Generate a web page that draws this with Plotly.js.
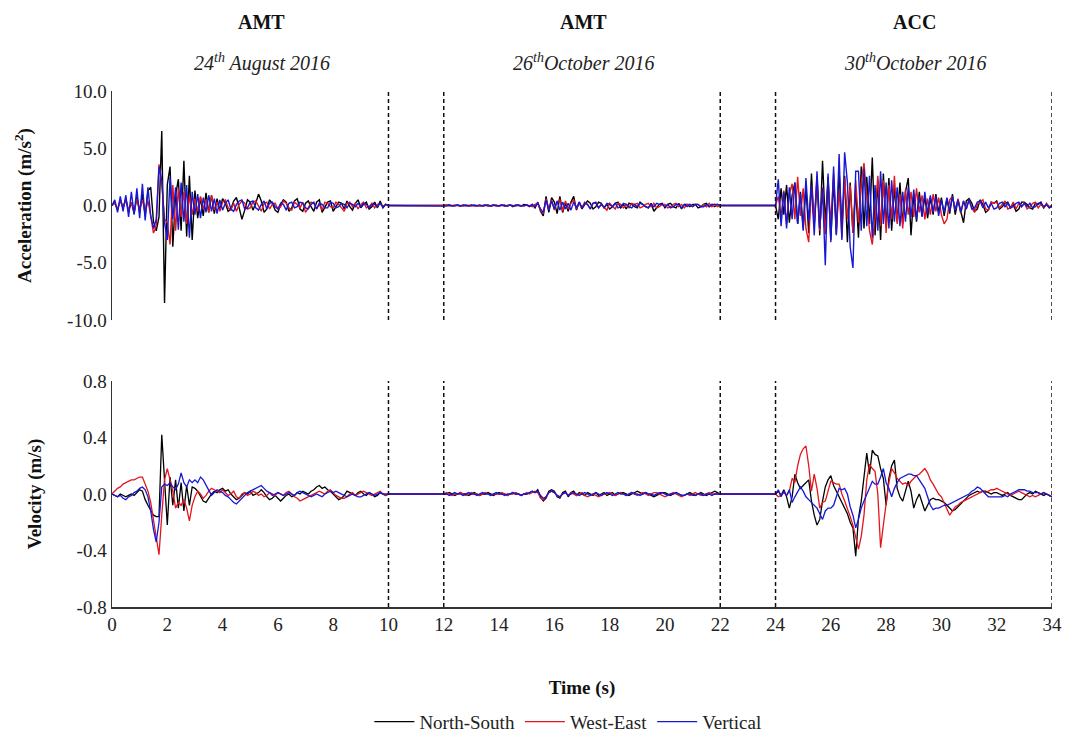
<!DOCTYPE html>
<html>
<head>
<meta charset="utf-8">
<script src="https://cdn.plot.ly/plotly-3.0.1.min.js"></script>
<style>html,body{margin:0;padding:0;background:#fff;}#chart{width:1070px;height:738px;}</style>
</head>
<body>
<div id="chart"></div>
<script>
// Each record lasts 10 s, sampled every 0.1 s (101 samples); records start at these times
const segmentStarts = [0, 12, 24];
const sampleStep = 0.1;
const seriesNames = ["North-South", "West-East", "Vertical"];
const seriesColors = ["#000000", "#e3161d", "#1717d6"];
const eventTitles = ["AMT", "AMT", "ACC"];
const eventDates = ["24<sup>th</sup> August 2016", "26<sup>th</sup>October 2016", "30<sup>th</sup>October 2016"];
const eventCentres = [5.42, 17.07, 29.04];
const dividerTimes = [10, 12, 22, 24, 34];
const xTicks = [0, 2, 4, 6, 8, 10, 12, 14, 16, 18, 20, 22, 24, 26, 28, 30, 32, 34];
const accTicks = [-10, -5, 0, 5, 10];
const accTickText = ["-10.0", "-5.0", "0.0", "5.0", "10.0"];
const velTicks = [-0.8, -0.4, 0, 0.4, 0.8];
const velTickText = ["-0.8", "-0.4", "0.0", "0.4", "0.8"];

// ---------- Acceleration (m/s^2) ----------
const accNS_1 = [0,0.3,-0.4,0.5,-0.2,0.6,-0.5,0.3,-0.7,0.8,
 -0.6,1.0,-0.9,1.3,1.6,-1.4,-2.2,-1.0,6.5,-8.5,
 1.8,3.4,-3.6,0.9,2.3,-2.2,3.9,-2.7,2.6,-3.0,
 1.3,-1.1,0.7,-0.9,1.1,-0.6,0.9,-0.7,0.6,-0.4,
 0.6,0.2,-0.5,-0.3,0.4,0.7,-0.2,-1.2,-0.4,0.5,
 0.3,-0.4,0.2,1.0,0.4,-0.6,-0.3,0.5,0.2,-0.4,
 -0.6,0.1,0.5,0.3,-0.5,-0.2,0.4,0.6,-0.3,-0.5,
 0.2,0.4,-0.1,-0.5,0.3,0.5,-0.6,-0.2,0.3,0.4,
 -0.5,-0.1,0.3,0.2,-0.3,0.4,-0.1,-0.4,0.2,0.5,
 -0.2,0.1,0.3,-0.3,-0.1,0.3,-0.2,0.4,-0.2,0.1,
 0];
const accNS_2 = [0,0,0.05,-0.05,0,0.05,-0.05,0.05,0,-0.05,
 0.05,0,-0.05,0.05,-0.05,0,0.05,-0.05,0.05,0,
 -0.05,0.05,-0.05,0,0.05,-0.1,0.05,0,-0.05,0.1,
 0.05,-0.1,0.1,-0.2,0.3,-0.5,-0.9,0.8,-0.6,0.7,
 0.3,-0.7,0.8,-0.6,0.2,-0.5,0.3,0.8,-0.4,0.3,
 -0.3,0.1,0.4,0.2,-0.3,-0.1,0.3,0.2,-0.2,0.1,
 -0.3,-0.1,0.2,0.3,-0.2,0.1,-0.3,0.2,0.1,-0.1,
 -0.2,0.3,0.1,-0.1,-0.2,0.2,-0.5,-0.2,0.1,0.2,
 -0.2,0.1,0.2,-0.1,-0.2,0.2,-0.3,0.1,0.1,-0.1,
 0.1,0.1,-0.2,-0.1,0.1,0.2,-0.1,0.1,-0.1,0.1,
 0];
const accNS_3 = [0,-1.2,1.5,-0.8,1.8,-1.5,0.9,2.0,-1.6,1.2,
 -2.0,1.6,-2.4,2.8,-1.8,2.2,-2.6,3.9,-1.5,2.5,
 -3.0,2.2,-2.5,3.0,-1.8,2.6,-3.2,2.0,-2.4,1.5,
 -2.8,3.4,-2.0,2.5,-1.6,4.2,-2.6,2.2,-3.0,2.8,
 -1.8,2.4,-2.2,1.6,-1.4,2.0,-1.6,1.2,2.4,-2.6,
 1.0,-1.4,1.2,-0.9,0.8,-1.1,0.7,-0.8,1.0,-0.6,
 0.7,-0.9,0.6,-0.7,1.0,-0.8,0.5,-0.6,-1.5,0.4,
 0.6,0.2,-0.5,-0.3,0.5,0.1,-0.6,-0.4,0.3,0.2,
 0.4,-0.3,-0.1,0.2,0.3,-0.2,0.1,-0.5,-0.3,0.3,
 0.3,0.1,-0.2,-0.3,0.2,0.1,0.3,-0.2,0.1,-0.2,
 0];
const accWE_1 = [0,0.2,-0.3,0.4,-0.2,0.5,-0.4,0.3,-0.5,0.6,
 -0.3,0.5,-0.6,0.4,-0.9,-2.4,-1.8,3.6,2.0,-1.2,
 -1.5,-3.4,1.8,-2.2,1.5,-1.0,1.2,-1.6,0.9,-0.8,
 0.6,-0.5,0.8,-0.3,0.5,-0.6,0.9,-0.4,0.3,-0.5,
 0.3,0.5,-0.2,-0.4,0.2,-0.5,0.1,0.4,0.2,-0.3,
 -0.2,0.3,0.4,-0.1,-0.5,0.2,0.3,-0.3,0.1,0.2,
 -0.3,-0.1,0.4,0.2,-0.2,-0.4,0.3,0.1,-0.2,0.3,
 -0.6,-0.2,0.3,0.2,-0.3,0.1,-0.4,0.3,0.2,-0.1,
 -0.2,0.3,0.1,-0.2,-0.5,0.2,0.3,-0.1,0.2,-0.3,
 0.1,0.3,-0.2,-0.1,0.2,-0.2,0.1,0.2,-0.1,0.1,
 0];
const accWE_2 = [0,0.05,-0.05,0,0.05,0,-0.05,0.05,-0.05,0,
 0.05,-0.05,0,0.05,-0.05,0.05,0,-0.05,0,0.05,
 -0.05,0,0.05,-0.05,0.05,0,-0.05,0.05,0,-0.05,
 0.05,0,-0.1,0.1,0.2,-0.4,-0.7,0.6,-0.3,0.5,
 -0.4,0.3,0.5,-0.5,0.4,-0.3,0.2,0.5,-0.3,0.2,
 -0.2,0.3,0.1,-0.3,0.2,0.2,-0.2,0.1,-0.2,-0.4,
 0.2,-0.1,-0.3,0.2,0.1,-0.2,0.1,-0.2,0.2,0.1,
 0.2,-0.2,-0.1,0.1,0.2,-0.1,0.2,-0.2,-0.1,0.1,
 0.1,-0.2,-0.1,0.1,0.2,-0.1,0.1,-0.2,0.1,0.1,
 -0.1,0.1,0.1,-0.1,0.1,-0.1,0.2,-0.1,0.1,-0.1,
 0];
const accWE_3 = [0,0.8,-1.0,1.3,-1.6,1.0,1.9,-1.2,2.5,-0.9,
 1.5,-2.0,-3.2,1.8,-1.4,2.6,-2.2,1.6,-2.5,2.0,
 -1.6,2.8,-2.0,1.4,-2.8,2.4,-1.2,1.8,-2.4,2.2,
 -1.5,2.0,3.7,1.0,-2.2,-3.4,-1.0,2.6,-1.8,2.2,
 -2.4,1.8,-1.2,2.6,-1.6,1.0,-2.0,1.4,-0.8,1.2,
 -1.0,1.5,-0.6,0.9,-1.2,0.6,-0.8,1.0,-0.5,0.7,
 -0.8,-1.6,-1.2,0.5,0.8,-0.4,0.6,-0.7,0.4,-0.3,
 0.5,-0.2,-0.6,0.1,0.3,0.5,-0.3,-0.4,0.3,0.2,
 0.3,-0.2,0.1,0.4,-0.3,-0.2,0.3,-0.3,0.2,-0.1,
 0.2,-0.3,-0.1,0.2,0.3,-0.2,0.1,-0.2,0.2,-0.1,
 0];
const accV_1 = [0,0.5,-0.6,0.8,-0.5,0.9,-1.0,1.2,-0.8,1.5,
 -1.1,1.9,-1.3,1.6,-0.9,-2.0,-1.2,3.4,2.2,-1.5,
 -3.0,2.5,-1.2,1.6,-2.1,2.0,-1.4,1.8,-2.8,1.2,
 -0.8,1.0,-1.1,0.7,-0.6,0.9,-0.5,0.6,-0.7,0.5,
 -0.4,0.2,0.5,-0.3,-0.5,0.1,0.4,0.5,-0.3,-0.2,
 0.3,0.4,-0.2,-0.4,0.1,0.4,-0.3,0.2,0.3,-0.1,
 -0.3,0.2,0.1,-0.4,0.2,0.3,-0.2,-0.1,0.3,0.2,
 -0.2,-0.3,0.1,0.3,-0.3,0.2,0.1,-0.2,-0.2,0.3,
 0.2,-0.2,-0.1,0.2,0.1,-0.2,0.2,0.1,-0.1,0.2,
 -0.1,0.2,0.1,-0.2,0.1,0.1,-0.1,0.2,-0.1,0.1,
 0];
const accV_2 = [0,-0.05,0.05,0,-0.05,0.05,0,-0.05,0.05,0,
 -0.05,0.05,0,-0.05,0,0.05,-0.05,0,0.05,-0.05,
 0,0.05,0,-0.05,0.05,-0.05,0,0.05,-0.05,0,
 0.05,-0.05,0.1,-0.1,0.2,-0.3,-0.6,0.5,-0.4,0.4,
 -0.3,0.4,-0.4,0.3,-0.3,0.2,-0.4,0.3,-0.2,0.3,
 -0.2,0.2,0.1,-0.3,0.2,0.3,-0.2,0.1,-0.2,0.2,
 0.1,-0.1,0.2,-0.2,-0.1,0.2,0.1,-0.1,-0.2,0.1,
 -0.1,0.2,0.1,-0.1,-0.2,0.1,-0.1,0.2,0.1,0.1,
 -0.1,0.1,-0.2,-0.1,0.1,0.1,-0.2,0.1,-0.1,0.1,
 -0.1,0.1,0.1,-0.1,-0.1,0.1,-0.1,0.1,0.1,0.1,
 0];
const accV_3 = [0,2.3,-1.8,1.2,-2.0,1.6,-1.2,2.0,-1.6,1.1,
 -2.2,2.4,-1.4,1.8,-2.6,3.0,-2.0,1.5,-5.2,2.8,
 -3.2,3.4,-2.6,4.5,-3.0,4.65,2.0,-3.6,-5.45,3.0,
 3.0,-2.2,3.2,-1.8,2.6,-2.8,1.8,-2.2,3.0,-1.6,
 2.0,-2.0,2.2,-1.4,1.6,-1.8,1.2,-1.4,1.6,-1.0,
 1.4,-1.2,0.8,-1.0,1.2,-0.7,0.9,-0.6,0.8,-0.9,
 0.5,-0.6,0.7,-0.5,0.8,-0.4,0.5,-0.6,0.4,-0.3,
 0.5,-0.3,-0.2,0.3,0.4,-0.2,0.3,-0.2,0.2,-0.3,
 -0.2,0.2,0.3,-0.1,0.2,-0.2,-0.1,0.2,0.3,-0.1,
 0.2,-0.1,0.2,-0.2,-0.1,0.2,0.2,-0.1,0.1,-0.2,
 0];

// ---------- Velocity (m/s) ----------
const velNS_1 = [0,-0.01,-0.02,0,-0.01,-0.02,-0.01,0,-0.01,0.01,
 0.03,0.02,-0.04,-0.08,-0.12,-0.15,-0.16,-0.16,0.42,0.12,
 -0.22,0.12,-0.08,0.10,-0.10,0.08,-0.12,0.06,-0.08,0.05,
 0.04,0.02,-0.02,-0.05,-0.06,-0.03,0.0,0.02,0.01,0.03,
 0.04,0.02,0.03,0.0,-0.02,-0.04,-0.03,-0.01,0.01,0.0,
 0.02,-0.01,0.0,0.01,0.03,0.01,-0.02,-0.04,-0.03,-0.01,
 -0.03,-0.05,-0.03,-0.01,0.0,-0.02,-0.01,0.01,0.0,0.02,
 0.01,0.0,0.02,0.03,0.05,0.06,0.04,0.05,0.03,0.02,
 0.0,-0.02,-0.04,-0.03,-0.01,0.02,0.01,0.0,-0.01,0.01,
 0.02,0.0,-0.01,0.01,0.0,-0.02,-0.01,0.01,0.0,-0.01,
 0];
const velNS_2 = [0,0,0.01,0,-0.01,0,0.01,0,0,-0.01,
 0,0.01,0,-0.01,0,0,0.01,0,-0.01,0,
 0.01,0,0,-0.01,0,0.01,0,0,-0.01,0,
 0,0.01,0.02,0.01,0.03,-0.02,-0.05,-0.03,0.02,0.03,
 0.02,-0.02,-0.03,0.01,0.02,-0.02,0.01,0.02,-0.01,0.01,
 0,-0.01,0.01,0,-0.01,0.01,-0.01,0,0.01,-0.01,
 0,0.01,-0.01,0,0.01,0.01,0,-0.01,0,0.01,
 0.02,0.01,0,0.01,0,-0.01,-0.02,-0.01,0,0.01,
 0.01,0,-0.01,0,0.01,0,-0.01,-0.01,0,0.01,
 0,-0.01,0,0.01,0,-0.01,0,0.01,0.02,0.01,
 0];
const velNS_3 = [0,0.02,-0.01,0.03,-0.02,-0.10,-0.02,0.14,0.08,0.04,
 0.06,0.08,0.10,-0.05,-0.15,-0.22,-0.18,-0.05,0.05,0.10,
 0.13,0.06,0.02,-0.02,-0.06,-0.10,-0.14,-0.20,-0.24,-0.44,
 -0.17,-0.05,0.12,0.29,0.14,0.31,0.28,0.27,0.18,0.11,
 -0.08,0.11,0.20,0.24,0.04,-0.02,-0.05,0.02,0.09,0.02,
 -0.10,-0.04,0.0,-0.06,-0.12,-0.08,-0.04,-0.03,-0.04,-0.04,
 -0.05,-0.06,-0.08,-0.10,-0.12,-0.11,-0.09,-0.07,-0.05,-0.03,
 -0.01,0.0,0.01,0.02,0.01,0.02,0.02,0.01,0.0,0.01,
 0.01,0.0,-0.01,0.0,0.01,-0.01,-0.02,-0.03,-0.04,-0.04,
 -0.02,0.0,0.01,0.0,0.02,0.01,0.0,-0.01,0.0,-0.01,
 -0.02];
const velWE_1 = [0,0.02,0.04,0.05,0.07,0.08,0.09,0.10,0.10,0.11,
 0.12,0.12,0.07,0.02,-0.06,-0.18,-0.30,-0.43,-0.15,0.10,
 0.18,0.10,0.02,-0.10,-0.06,-0.08,-0.04,-0.10,-0.19,-0.08,
 -0.02,0.02,0.0,-0.03,-0.01,0.02,0.04,0.03,0.02,0.01,
 0.03,0.01,-0.01,0.0,0.02,-0.02,-0.03,0.0,0.01,-0.01,
 0.0,0.02,0.01,-0.01,0.0,-0.02,-0.01,0.01,0.0,-0.01,
 0.01,0.0,-0.01,0.01,0.02,0.0,-0.02,-0.03,-0.05,-0.04,
 -0.03,-0.02,-0.01,0.0,0.01,0.02,0.01,0.0,0.02,0.03,
 0.01,-0.01,-0.02,-0.03,-0.03,-0.02,0.0,0.01,-0.01,0.0,
 0.01,0.02,0.01,0.0,-0.01,0.0,0.01,0.02,0.0,-0.01,
 0];
const velWE_2 = [0,0.01,0,-0.01,0,0,0.01,0,-0.01,0,
 0.01,0,0,-0.01,0,0.01,0,-0.01,0,0,
 0,0.01,0,-0.01,0,0,0.01,0,-0.01,0,
 0.01,0,0.01,0.02,0.01,-0.03,-0.04,-0.02,0.01,0.02,
 0.01,-0.01,-0.02,0.0,0.01,-0.01,0.01,0.0,-0.01,0.0,
 0.01,-0.01,-0.02,-0.01,0,-0.01,-0.02,-0.01,0,0,
 0.01,0,-0.01,0,0.01,0,-0.01,0,0.01,0,
 -0.01,0,0.01,0,-0.01,0,0.01,0.01,0,-0.01,
 -0.02,-0.01,0,0.01,0,-0.01,-0.02,-0.01,0,-0.01,
 0,0.01,0,-0.01,-0.01,0,0.01,0,0,0,
 0];
const velWE_3 = [0,-0.02,-0.01,0.01,-0.01,0.02,0.11,0.08,0.20,0.28,
 0.32,0.34,0.20,0.02,0.14,0.04,-0.10,-0.06,-0.05,0.02,
 0.09,0.08,0.07,0.07,0.0,-0.05,-0.10,-0.16,-0.22,-0.30,
 -0.39,-0.30,-0.15,0.10,0.21,0.18,0.16,0.0,-0.38,-0.22,
 -0.05,0.08,0.18,0.15,0.11,0.09,0.07,0.08,0.06,0.09,
 0.11,0.13,0.14,0.16,0.18,0.15,0.10,0.07,0.03,0.0,
 -0.02,-0.06,-0.10,-0.15,-0.12,-0.09,-0.08,-0.06,-0.05,-0.04,
 -0.03,-0.02,-0.01,0.0,0.01,0.02,0.01,0.02,0.03,0.03,
 0.04,0.03,0.02,0.01,0.0,-0.01,0.0,0.01,0.02,0.01,
 0.0,-0.01,-0.02,-0.01,-0.02,-0.01,0.0,0.01,0.0,-0.01,
 -0.02];
const velV_1 = [0,-0.01,-0.02,-0.01,-0.03,-0.04,-0.02,-0.01,0.01,0.02,
 0.04,0.05,0.03,-0.02,-0.12,-0.25,-0.34,-0.20,0.05,0.07,
 0.06,0.08,0.05,0.03,0.07,0.15,0.08,0.05,0.10,0.08,
 0.10,0.08,0.12,0.10,0.06,0.02,-0.01,0.01,0.03,0.02,
 0.01,-0.01,-0.02,-0.04,-0.06,-0.07,-0.05,-0.03,-0.01,0.01,
 0.02,0.03,0.04,0.05,0.06,0.04,0.02,0.01,-0.01,0.0,
 0.01,0.0,-0.01,0.0,0.01,0.0,-0.01,0.01,0.02,0.01,
 0.0,-0.01,-0.02,-0.01,0.0,-0.01,-0.02,0.0,0.01,0.02,
 0.01,0.02,0.01,0.0,-0.01,-0.02,-0.01,0.0,-0.01,-0.02,
 -0.02,-0.01,0.0,0.01,0.0,-0.01,0.0,0.01,0.0,0.0,
 0];
const velV_2 = [0,0,-0.01,0,0.01,0,0,-0.01,0,0.01,
 0,0,-0.01,0,0.01,0,0,-0.01,0,0.01,
 0,0,-0.01,0,0,0.01,0,0,-0.01,0,
 0,0.01,0.02,0.01,0.02,-0.01,-0.03,-0.02,0.01,0.02,
 0.01,-0.01,-0.02,0,0.01,-0.01,0,0.01,0,-0.01,
 0,0.01,0,-0.01,0,0.01,0,-0.01,0,0.01,
 0,-0.01,0,0.01,0,0,-0.01,0,0.01,0,
 0,-0.01,0,0.01,0,0,-0.01,0,0.01,0.01,
 0,-0.01,0,0,0.01,0,-0.01,-0.01,0,0,
 -0.01,-0.01,0,0,-0.01,0,0,-0.01,0,0,
 0];
const velV_3 = [0,0.03,-0.02,0.02,-0.01,0.03,-0.06,-0.02,0.02,0.05,
 0.02,-0.02,-0.04,-0.06,-0.08,-0.10,-0.14,-0.18,-0.12,-0.10,
 -0.10,-0.08,-0.02,0.04,0.03,0.04,0.0,-0.09,-0.15,-0.24,
 -0.18,-0.10,-0.05,0.0,0.04,0.09,0.07,0.07,0.12,0.18,
 0.08,0.04,-0.02,0.04,0.08,0.11,0.12,0.13,0.14,0.14,
 0.13,0.13,0.10,0.07,0.04,-0.02,-0.08,-0.11,-0.10,-0.10,
 -0.09,-0.08,-0.08,-0.07,-0.06,-0.05,-0.04,-0.03,-0.02,-0.01,
 0.0,0.02,0.03,0.05,0.04,0.02,0.0,-0.02,-0.02,-0.02,
 -0.02,-0.02,-0.02,-0.01,-0.02,0.0,0.01,0.02,0.03,0.03,
 0.03,0.02,0.02,0.01,0.01,0.01,0.0,0.01,0.0,-0.01,
 -0.02];

const accSeries = [[accNS_1, accNS_2, accNS_3], [accWE_1, accWE_2, accWE_3], [accV_1, accV_2, accV_3]];
const velSeries = [[velNS_1, velNS_2, velNS_3], [velWE_1, velWE_2, velWE_3], [velV_1, velV_2, velV_3]];

function joinSegments(parts) {
  const xs = [], ys = [];
  parts.forEach((vals, s) => {
    vals.forEach((v, i) => {
      xs.push(Math.round((segmentStarts[s] + i * sampleStep) * 100) / 100);
      ys.push(v);
    });
  });
  return {xs, ys};
}

const FONT = "Liberation Serif, Times New Roman, serif";
const traces = [];
accSeries.forEach((parts, k) => {
  const d = joinSegments(parts);
  traces.push({x: d.xs, y: d.ys, xaxis: "x", yaxis: "y", type: "scatter", mode: "lines",
    name: seriesNames[k], legendgroup: seriesNames[k], showlegend: true,
    line: {color: seriesColors[k], width: 1.4}, hoverinfo: "skip"});
});
velSeries.forEach((parts, k) => {
  const d = joinSegments(parts);
  traces.push({x: d.xs, y: d.ys, xaxis: "x", yaxis: "y2", type: "scatter", mode: "lines",
    name: seriesNames[k], legendgroup: seriesNames[k], showlegend: false,
    line: {color: seriesColors[k], width: 1.3}, hoverinfo: "skip"});
});

const shapes = [];
["y domain", "y2 domain"].forEach(ref => {
  dividerTimes.forEach(t => {
    shapes.push({type: "line", xref: "x", yref: ref, x0: t, x1: t, y0: 0, y1: 1,
      line: {color: "#111", width: 1.5, dash: "4px,3px"}});
  });
});

const annotations = [];
eventTitles.forEach((txt, i) => {
  annotations.push({xref: "x", yref: "paper", x: eventCentres[i], y: 1.134, yanchor: "middle",
    text: "<b>" + txt + "</b>", showarrow: false, font: {family: FONT, size: 20, color: "#111"}});
  annotations.push({xref: "x", yref: "paper", x: eventCentres[i], y: 1.056, yanchor: "middle",
    text: "<i>" + eventDates[i] + "</i>", showarrow: false, font: {family: FONT, size: 20, color: "#222"}});
});

const axisCommon = {showgrid: false, zeroline: false, showline: true, linecolor: "#333", linewidth: 1.5,
  ticks: "", automargin: false, tickfont: {family: FONT, size: 19, color: "#222"}};

const layout = {
  width: 1070, height: 738,
  margin: {l: 112, r: 18, t: 91, b: 131},
  paper_bgcolor: "#fff", plot_bgcolor: "#fff",
  font: {family: FONT, color: "#222"},
  showlegend: true,
  legend: {orientation: "h", x: 0.485, xanchor: "center", yref: "container", y: 0.022, yanchor: "middle",
    font: {family: FONT, size: 19, color: "#222"}, traceorder: "normal", itemwidth: 40},
  xaxis: Object.assign({}, axisCommon, {range: [0, 34], tickvals: xTicks, anchor: "y2",
    title: {text: "<b>Time (s)</b>", font: {family: FONT, size: 19, color: "#111"}, standoff: 46}}),
  yaxis: Object.assign({}, axisCommon, {domain: [0.556, 1], range: [-10, 10], tickvals: accTicks, ticktext: accTickText,
    anchor: "x", title: {text: "<b>Acceleration (m/s<sup>2</sup>)</b>", font: {family: FONT, size: 19, color: "#111"}, standoff: 30}}),
  yaxis2: Object.assign({}, axisCommon, {domain: [0, 0.438], range: [-0.8, 0.8], tickvals: velTicks, ticktext: velTickText,
    anchor: "x", title: {text: "<b>Velocity (m/s)</b>", font: {family: FONT, size: 19, color: "#111"}, standoff: 30}}),
  shapes: shapes,
  annotations: annotations
};

Plotly.newPlot("chart", traces, layout, {staticPlot: true, displayModeBar: false});
</script>
</body>
</html>
